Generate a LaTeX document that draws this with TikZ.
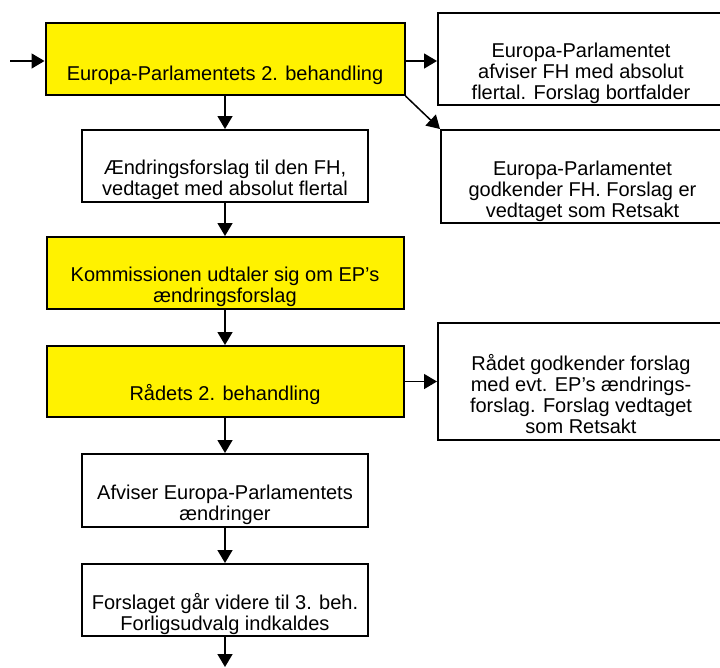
\documentclass[tikz,border=0pt]{standalone}
\usepackage{fontspec}
\setmainfont{Liberation Sans}
\usetikzlibrary{arrows.meta}
\definecolor{stageyellow}{RGB}{255,242,0}
\def\colx{225}
\def\sidex{581}
% text sits at the bottom of each box
\newcommand{\boxtext}[4]{\parbox[c][#2][b]{#1}{\centering #4\rule[-5pt]{0pt}{5pt}\par\vspace{\dimexpr #3-5pt\relax}}}

\begin{document}
\begin{tikzpicture}[x=1pt,y=-1pt,line width=1.5pt,>={Triangle[width=15pt,length=13pt]},font=\fontsize{20}{21}\selectfont]
            \tikzstyle{box}=[draw=black, inner sep=0pt, line width=2pt]
            \tikzstyle{stage}=[box, fill=stageyellow]
            \tikzstyle{result}=[box, fill=white]
            \tikzstyle{flow}=[->, line width=1.5pt]

            \clip (0,0) rectangle (720,667);

            % Draw the main column
            \node[stage] (EP2) at (\colx,59) {\boxtext{359pt}{72pt}{15pt}{Europa-Parlamentets 2. behandling}};
            \node[result] (AEndr) at (\colx,166) {\boxtext{286pt}{72pt}{7pt}{Ændringsforslag til den FH,\\ vedtaget med absolut flertal}};
            \node[stage] (Komm) at (\colx,273) {\boxtext{357pt}{72pt}{7pt}{Kommissionen udtaler sig om EP’s\\ ændringsforslag}};
            \node[stage] (Raad) at (\colx,381.5) {\boxtext{357pt}{71pt}{17pt}{Rådets 2. behandling}};
            \node[result] (Afv) at (\colx,490.5) {\boxtext{286pt}{73pt}{7pt}{Afviser Europa-Parlamentets\\ ændringer}};
            \node[result] (Forlig) at (\colx,600) {\boxtext{286pt}{72pt}{6pt}{Forslaget går videre til 3. beh.\\ Forligsudvalg indkaldes}};

            % Draw the outcomes on the right
            \node[result] (Bortf) at (\sidex,59) {\boxtext{286pt}{92pt}{6pt}{Europa-Parlamentet\\ afviser FH med absolut\\ flertal. Forslag bortfalder}};
            \node[result] (Godk) at (582.5,176.5) {\boxtext{283pt}{93pt}{6pt}{Europa-Parlamentet\\ godkender FH. Forslag er\\ vedtaget som Retsakt}};
            \node[result] (Vedt) at (\sidex,381.5) {\boxtext{286pt}{117pt}{7pt}{Rådet godkender forslag\\ med evt. EP’s ændrings-\\ forslag. Forslag vedtaget\\ som Retsakt}};

            \coordinate (in) at (10,61);
            \coordinate (out) at (\colx,667);

            % Connect the main column
            \draw[flow] (in) -- (in -| EP2.west);
            \foreach \source / \dest in {EP2/AEndr, AEndr/Komm, Komm/Raad, Raad/Afv, Afv/Forlig}
                \draw[flow] (\source) -- (\dest);
            \draw[flow] (Forlig) -- (out);

            % Connect the outcomes
            \draw[flow] (in -| EP2.east) -- (in -| Bortf.west);
            \draw[flow] (EP2.south east) -- (Godk.north west);
            \draw[flow] (Raad) -- (Vedt);
        \end{tikzpicture}
\end{document}
